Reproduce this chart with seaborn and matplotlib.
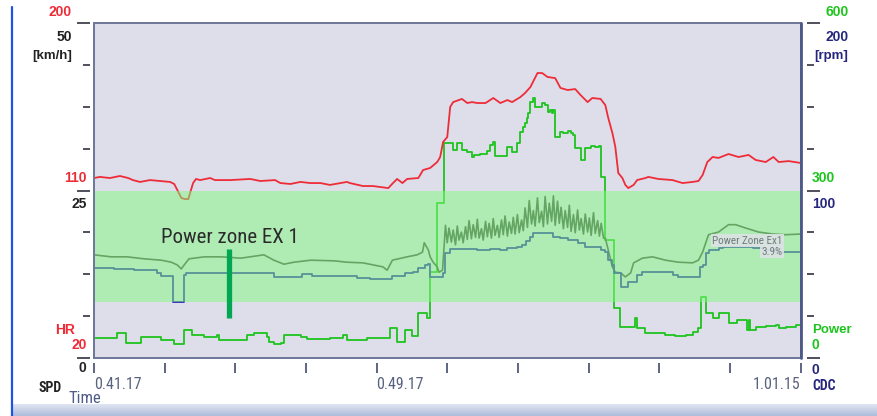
import numpy as np
import pandas as pd
import matplotlib
matplotlib.use("Agg")
import matplotlib.pyplot as plt
import seaborn as sns
from matplotlib.patches import Rectangle
from matplotlib.lines import Line2D
from matplotlib.ticker import FixedLocator
from matplotlib import font_manager as fm

# ---------------- data (time in seconds after 0:41:17) ----------------
T_END = 1198
time_tick_labels = ["0.41.17", "", "", "", "0.49.17", "", "", "", "", "", "1.01.15"]

hr_t = [0, 10, 27, 44, 58, 66, 78, 95, 112, 129, 136, 143, 148, 154, 160, 163, 168, 173, 180, 197,
        205, 231, 265, 282, 307, 316, 333, 350, 367, 384, 400, 429, 434, 456, 473, 499, 507, 514, 523, 531,
        550, 558, 570, 582, 587, 592, 599, 604, 609, 624, 633, 641, 650, 664, 677, 689, 701, 709, 723, 731,
        740, 752, 760, 769, 782, 791, 803, 816, 825, 837, 845, 859, 867, 872, 879, 884, 889, 896, 901, 906,
        915, 921, 935, 940, 957, 981, 998, 1015, 1025, 1032, 1040, 1049, 1059, 1076, 1093, 1110, 1122, 1139,
        1152, 1161, 1178, 1198]
hr_bpm = [116.7, 117.3, 116.7, 117.8, 116.7, 115.6, 114.6, 115.6, 115.1, 114.6, 113.5, 109.2, 106.0, 105.4,
          105.4, 108.7, 114.0, 116.2, 115.6, 116.7, 115.6, 115.6, 116.2, 115.1, 115.6, 114.0, 113.5, 114.6,
          114.0, 114.0, 113.0, 114.6, 114.0, 112.4, 112.4, 111.3, 114.0, 116.2, 114.0, 116.2, 116.7, 121.0,
          122.1, 125.3, 128.0, 136.1, 138.7, 154.9, 157.5, 159.2, 157.0, 157.5, 157.0, 157.0, 159.7, 157.0,
          158.6, 157.5, 160.2, 162.4, 165.6, 173.1, 173.1, 171.0, 170.4, 165.1, 164.0, 164.5, 161.3, 157.5,
          159.7, 159.2, 155.9, 149.0, 140.9, 133.4, 119.4, 116.7, 113.0, 111.3, 113.0, 115.6, 116.7, 117.3,
          116.2, 115.6, 114.0, 114.6, 115.1, 118.3, 125.3, 128.0, 127.5, 129.6, 128.0, 129.1, 126.4, 125.3,
          128.0, 125.3, 125.8, 124.8]

power_t = [0, 39, 54, 80, 114, 136, 153, 166, 187, 209, 212, 260, 272, 294, 297, 305, 317, 322, 351, 361,
           400, 423, 429, 463, 502, 514, 528, 540, 550, 565, 570, 582, 594, 608, 616, 624, 633, 641, 645, 655,
           667, 672, 677, 680, 701, 709, 718, 723, 728, 731, 735, 736, 740, 745, 748, 760, 765, 769, 774, 777,
           779, 781, 791, 796, 803, 808, 813, 815, 825, 833, 842, 850, 857, 859, 867, 881, 892, 918, 921, 935,
           969, 986, 1003, 1015, 1025, 1029, 1037, 1049, 1059, 1076, 1091, 1108, 1110, 1113, 1122, 1139, 1156,
           1161, 1173, 1190, 1198]
power_w = [36, 45, 27, 38, 32, 25, 50, 41, 38, 41, 32, 41, 45, 38, 29, 25, 27, 41, 38, 34,
           36, 41, 32, 36, 54, 29, 50, 39, 81, 72, 154, 278, 385, 373, 385, 373, 369, 360, 364, 365,
           371, 381, 387, 362, 378, 369, 385, 405, 414, 421, 430, 439, 458, 466, 450, 457, 453, 441, 444, 439,
           444, 396, 405, 403, 407, 403, 399, 376, 355, 376, 380, 378, 380, 324, 211, 90, 56, 72, 54, 45,
           41, 39, 41, 47, 54, 109, 81, 72, 81, 63, 68, 50, 68, 50, 56, 57, 59, 54, 56, 59, 56]

cad_t = [0, 34, 68, 107, 114, 134, 153, 156, 305, 353, 370, 446, 468, 506, 528, 541, 550, 562, 567, 570,
         592, 596, 604, 650, 672, 689, 701, 718, 726, 733, 740, 745, 779, 791, 803, 820, 833, 859, 867, 871,
         879, 881, 893, 906, 921, 930, 981, 991, 1028, 1032, 1037, 1042, 1059, 1067, 1117, 1134, 1156, 1168, 1198]
cad_rpm = [53.7, 53.1, 52.5, 50.7, 49.0, 33.4, 49.6, 50.7, 48.4, 50.1, 49.0, 47.8, 47.2, 49.0, 50.7, 51.3,
           53.7, 55.5, 56.1, 48.4, 50.7, 62.7, 65.1, 64.5, 65.1, 64.5, 65.7, 66.3, 67.5, 69.8, 72.2, 74.6,
           72.2, 71.6, 70.4, 68.7, 66.3, 64.5, 63.3, 58.5, 55.5, 50.7, 42.4, 45.4, 49.6, 51.3, 49.6, 48.4,
           54.3, 55.5, 62.7, 64.5, 65.7, 66.3, 65.7, 64.5, 62.7, 63.3, 63.3]

spd_t = [0, 29, 56, 85, 114, 131, 141, 148, 153, 161, 187, 216, 249, 288, 305, 322, 339, 368, 407, 429,
         456, 490, 497, 506, 531, 548, 557, 560, 567, 570, 575, 582, 585, 591,
         596, 599, 602, 606, 609, 613, 616, 619, 623, 626, 630, 633, 636, 640, 643, 647, 650, 653, 657, 660,
         664, 667, 670, 674, 677, 680, 684, 687, 691, 694, 697, 701, 704, 708, 711, 714, 718, 721, 725, 728,
         731, 735, 738, 742, 745, 748, 752, 755, 759, 762, 765, 769, 772, 776, 779, 782, 786, 789, 792, 796,
         799, 803, 806, 809, 813, 816, 820, 823, 826, 830, 833, 837, 840, 843, 847, 850, 854, 857, 860, 864,
         867,
         872, 879, 884, 893, 901, 910, 915, 930, 947, 969, 991, 1015, 1025, 1032, 1042, 1059, 1076, 1088,
         1105, 1127, 1151, 1173, 1198]
spd_kmh = [15.4, 15.1, 15.1, 14.8, 14.6, 14.3, 13.9, 13.3, 13.9, 14.8, 15.1, 15.1, 14.9, 15.4, 14.6, 14.0,
           14.3, 14.6, 14.5, 14.3, 14.2, 13.6, 13.1, 14.6, 15.1, 15.4, 15.8, 17.2, 16.1, 15.1, 14.3, 13.6,
           12.8, 13.1,
           19.8, 17.2, 19.4, 17.3, 19.1, 16.9, 19.7, 17.6, 18.8, 17.2, 19.6, 17.7, 20.5, 17.8, 19.9, 18.0,
           20.7, 17.9, 19.3, 17.6, 20.4, 18.1, 20.1, 17.9, 20.8, 18.3, 19.8, 18.0, 20.6, 18.4, 21.2, 18.2,
           20.3, 18.6, 21.0, 18.5, 21.4, 18.7, 20.6, 19.0, 22.4, 19.5, 23.5, 20.0, 22.0, 19.7, 23.9, 20.2,
           21.9, 19.6, 24.1, 20.0, 23.1, 20.4, 24.2, 19.8, 23.4, 20.1, 22.5, 19.3, 22.0, 19.5, 22.8, 18.9,
           21.4, 18.7, 22.1, 19.1, 20.8, 18.5, 21.5, 18.8, 20.9, 18.3, 21.7, 18.6, 20.5, 18.2, 20.1, 17.9,
           17.9,
           16.1, 13.6, 12.8, 12.7, 12.1, 12.7, 14.2, 14.9, 15.1, 14.6, 14.3, 14.2, 14.6, 15.8, 18.4, 18.8,
           19.9, 19.9, 19.4, 18.8, 18.5, 18.4, 18.5]

zone_low_w, zone_high_w = 100, 300
zone_name = "Power Zone Ex1"
zone_share = "3.9%"
zone_note = "Power zone EX 1"
zone_note_t, zone_note_w = 114, 206
marker_t, marker_w_low, marker_w_high = 229, 72, 195
zone_label_t, zone_label_w1, zone_label_w2 = 1167, 210, 190

# ---------------- styling ----------------
sns.set_theme(style="white")
plt.rcParams["font.family"] = ["Liberation Sans", "DejaVu Sans"]


def pick_narrow(bold=False):
    """Find an installed condensed / narrow sans font file."""
    prefs = ["Liberation", "Arial", "Roboto", "Open", "Noto", "DejaVu"]
    found = []
    for f in fm.fontManager.ttflist:
        key = (f.name + " " + f.fname).lower()
        if "narrow" in key or "condensed" in key or str(f.stretch) in ("condensed", "semi-condensed"):
            if "mono" in key or "serif" in key.replace("sans-serif", "") and "sans" not in key:
                continue
            if "italic" in key or "oblique" in key or f.style != "normal":
                continue
            w = f.weight if isinstance(f.weight, int) else (700 if "bold" in str(f.weight) else 400)
            if bold != (w >= 600):
                continue
            rank = next((i for i, p in enumerate(prefs) if p.lower() in key), len(prefs))
            found.append((rank, f.fname))
    if found:
        found.sort()
        return fm.FontProperties(fname=found[0][1])
    return None


NARROW_FP = pick_narrow(False)
NARROW_B_FP = pick_narrow(True)


def narrow_props(size, bold=False):
    fp = NARROW_B_FP if bold else NARROW_FP
    if fp is None:
        return fm.FontProperties(family=["Liberation Sans", "DejaVu Sans"], size=size * 0.86,
                                 weight="bold" if bold else "normal")
    fp = fp.copy()
    fp.set_size(size)
    return fp


C_HR = "#ee2c38"
C_POW = "#1ec41e"
C_SPD = "#46504a"
C_CAD = "#2c28b4"
C_NAVY = "#26267e"
C_BG = "#dedeeb"
C_ZONE = (130 / 255, 250 / 255, 124 / 255)
C_TICK = "#50505c"

W, H = 877, 416
fig = plt.figure(figsize=(W / 100, H / 100), dpi=100)
fig.patch.set_facecolor("white")

L, R, T, B = 94, 800.5, 23, 358
ax = fig.add_axes([L / W, 1 - B / H, (R - L) / W, (B - T) / H])
ax.set_facecolor(C_BG)
ax_hr = ax.twinx()
ax_spd = ax.twinx()
ax_cad = ax.twinx()
ax_top = ax.twinx()

for a in (ax, ax_hr, ax_spd, ax_cad, ax_top):
    for s in a.spines.values():
        s.set_visible(False)
    a.grid(False)
    a.set_xlim(0, T_END)

sns.lineplot(x=power_t, y=power_w, ax=ax, color=C_POW, lw=1.3, estimator=None, sort=False,
             drawstyle="steps-post")
sns.lineplot(x=hr_t, y=hr_bpm, ax=ax_hr, color=C_HR, lw=1.3, estimator=None, sort=False)
sns.lineplot(x=spd_t, y=spd_kmh, ax=ax_spd, color=C_SPD, lw=1.2, estimator=None, sort=False)
sns.lineplot(x=cad_t, y=cad_rpm, ax=ax_cad, color=C_CAD, lw=1.3, estimator=None, sort=False,
             drawstyle="steps-post")

ax.set_ylim(0, 600)
ax_hr.set_ylim(20, 200)
ax_spd.set_ylim(0, 50)
ax_cad.set_ylim(0, 200)
ax_top.set_ylim(0, 600)
ax.set_xlim(0, T_END)

for a in (ax, ax_hr, ax_spd, ax_cad, ax_top):
    a.set_xlabel("")
    a.set_ylabel("")

for a in (ax_hr, ax_spd, ax_cad, ax_top):
    a.tick_params(left=False, right=False, labelleft=False, labelright=False,
                  bottom=False, labelbottom=False)

# zone overlay and annotations
ax_top.axhspan(zone_low_w, zone_high_w, color=C_ZONE, alpha=0.5, lw=0, zorder=1)
ax_top.plot([marker_t, marker_t], [marker_w_low, marker_w_high], color="#00a651", lw=3.8,
            solid_capstyle="butt", zorder=3)
ax_top.text(zone_note_t, zone_note_w, zone_note, fontproperties=narrow_props(15), color="#2b2b2b",
            ha="left", va="baseline", zorder=4)
bb = dict(boxstyle="square,pad=0.12", fc="#dde2e6", ec="none", alpha=0.9)
ax_top.text(zone_label_t, zone_label_w1, zone_name, fontproperties=narrow_props(8), color="#6f7c7c",
            ha="right", va="center", bbox=bb, zorder=4)
ax_top.text(zone_label_t, zone_label_w2, zone_share, fontproperties=narrow_props(8), color="#6f7c7c",
            ha="right", va="center", bbox=bb, zorder=4)

# frame
ax_top.add_patch(Rectangle((0, 0), 1, 1, transform=ax_top.transAxes, fill=False,
                           ec="#6d7698", lw=1.4, clip_on=False, zorder=5))
ax_top.plot([1, 1], [0, 1], transform=ax_top.transAxes, color="#4e5888", lw=2.0,
            clip_on=False, zorder=5)

# y ticks (detached from the frame)
ax.spines["left"].set_position(("outward", 3.0))
ax.spines["right"].set_position(("outward", 4.5))
ax.spines["bottom"].set_position(("outward", 3.6))
ax.yaxis.set_major_locator(FixedLocator([0, 300, 600]))
ax.yaxis.set_minor_locator(FixedLocator([75, 150, 225, 375, 450, 525]))
ax.tick_params(axis="y", which="major", left=True, right=True, length=9.6, width=1.4,
               color=C_TICK, direction="out", labelleft=False, labelright=False)
ax.tick_params(axis="y", which="minor", left=True, right=True, length=5.2, width=1.4,
               color=C_TICK, direction="out")

# x ticks
ax.set_xticks(np.linspace(0, T_END, 11))
ax.set_xticklabels(time_tick_labels)
ax.tick_params(axis="x", which="major", bottom=True, length=7.2, width=1.4, color="#5c6480",
               direction="out", pad=3.2, labelcolor="#59637f")
xl = ax.get_xticklabels()
for lab in xl:
    lab.set_fontproperties(narrow_props(11.5))
    lab.set_ha("left")
xl[-1].set_ha("right")


# side labels (figure pixel coordinates)
def ftxt(px, py, s, color, ha, size=10, weight="bold", narrow=False):
    if narrow:
        fp = narrow_props(size, bold=(weight == "bold"))
    else:
        fp = fm.FontProperties(family=["Liberation Sans", "DejaVu Sans"], size=size, weight=weight)
    fig.text(px / W, 1 - py / H, s, color=color, ha=ha, va="center", fontproperties=fp)


ftxt(72, 12, "200", C_HR, "right")
ftxt(72, 37, "50", "#222222", "right")
ftxt(72, 56.5, "[km/h]", "#222222", "right", size=9.5)
ftxt(86.5, 178.5, "110", C_HR, "right")
ftxt(86.5, 204, "25", "#222222", "right")
ftxt(75.5, 330, "HR", C_HR, "right")
ftxt(86.5, 345, "20", C_HR, "right")
ftxt(86.5, 368, "0", "#222222", "right")
ftxt(62, 387.5, "SPD", "#222222", "right", size=10, narrow=True)
ftxt(68, 398.5, "Time", "#4f5d86", "left", size=12, weight="normal", narrow=True)

ftxt(825, 12, "600", C_POW, "left")
ftxt(825, 37, "200", C_NAVY, "left")
ftxt(814, 55.5, "[rpm]", C_NAVY, "left", size=9.5)
ftxt(812, 178.5, "300", C_POW, "left")
ftxt(812, 204.5, "100", C_NAVY, "left")
ftxt(812, 330, "Power", C_POW, "left", size=9.5)
ftxt(812, 345, "0", C_POW, "left")
ftxt(812, 370.5, "0", C_NAVY, "left")
ftxt(812, 385.5, "CDC", C_NAVY, "left", size=10, narrow=True)

# left blue rule and bottom gradient band
fig.add_artist(Line2D([11.5 / W, 11.5 / W], [1 - 7 / H, 0], color="#2152e8", lw=1.6))
band = fig.add_axes([12 / W, 0, 1 - 12 / W, 12 / H])
grad = np.linspace(0, 1, 50).reshape(-1, 1)
top_c = np.array([0.88, 0.90, 0.95])
bot_c = np.array([0.68, 0.74, 0.86])
img = top_c[None, None, :] * (1 - grad[:, :, None]) + bot_c[None, None, :] * grad[:, :, None]
band.imshow(img, aspect="auto", extent=[0, 1, 0, 1])
band.axis("off")

fig.savefig("out.png", dpi=100, facecolor="white")
